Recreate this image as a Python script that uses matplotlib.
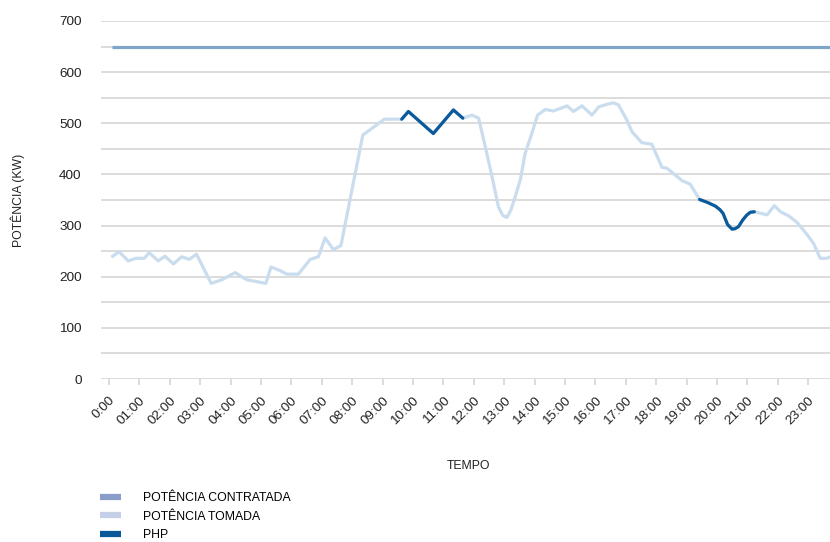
import matplotlib
matplotlib.use("Agg")
import matplotlib.pyplot as plt
from matplotlib.lines import Line2D
import numpy as np

plt.rcParams['font.family'] = ['Liberation Sans', 'DejaVu Sans']

# demanda medida ao longo do dia (hora decimal, kW)
horas = [0.12, 0.33, 0.63, 0.89, 1.16, 1.32, 1.62, 1.84, 2.12, 2.39, 2.64, 2.88,
         3.36, 3.71, 4.15, 4.53, 5.16, 5.33, 5.63, 5.85, 6.23, 6.62, 6.89, 7.11,
         7.38, 7.63, 8.35, 9.06, 9.63, 9.85, 10.67, 11.33, 11.64, 11.94, 12.16,
         12.38, 12.60, 12.81, 12.95, 13.09, 13.22, 13.36, 13.53, 13.69, 13.86,
         14.10, 14.35, 14.62, 15.07, 15.28, 15.56, 15.89, 16.11, 16.38, 16.60,
         16.76, 17.04, 17.20, 17.53, 17.86, 18.19, 18.36, 18.85, 19.12, 19.43,
         19.70, 19.95, 20.10, 20.20, 20.35, 20.50, 20.60, 20.71, 20.85, 20.99,
         21.10, 21.23, 21.65, 21.89, 22.09, 22.36, 22.64, 22.97, 23.18, 23.40,
         23.62, 23.73]
potencia_tomada = [240, 249, 231, 236, 236, 247, 231, 240, 225, 239, 234, 244,
                   187, 194, 208, 194, 187, 219, 212, 205, 205, 234, 239, 276,
                   253, 261, 477, 508, 508, 523, 480, 526, 510, 516, 510,
                   454, 396, 337, 320, 316, 330, 356, 389, 441, 471,
                   516, 527, 524, 534, 523, 534, 516, 532, 537, 540,
                   536, 506, 484, 462, 459, 414, 412, 388, 381, 351,
                   345, 338, 331, 324, 302, 293, 294, 298, 311, 321,
                   326, 327, 321, 339, 327, 319, 306, 282, 265, 236,
                   236, 239]
potencia_contratada = 650
php_inicio = [9.63, 19.43]
php_fim = [11.64, 21.23]

rotulos_x = ['0:00'] + ['%02d:00' % h for h in range(1, 24)]
ticks_y = [0, 100, 200, 300, 400, 500, 600, 700]

horas = np.array(horas)
potencia_tomada = np.array(potencia_tomada)

fig = plt.figure(figsize=(8.3, 5.42), dpi=100)
ax = fig.add_axes([0.1217, 0.3007, 0.8783, 0.6606])

ax.set_xlim(-0.263, 23.72)
ax.set_ylim(0, 700)

for y in np.arange(0, 701, 50):
    ax.axhline(y, color='#d2d2d2', lw=1.1, zorder=0)

ax.plot([0.1, 23.72], [potencia_contratada] * 2, color='#7fa5c8', lw=2.3,
        solid_capstyle='butt', zorder=2)
ax.plot(horas, potencia_tomada, color='#c9ddee', lw=2.3, zorder=3,
        solid_joinstyle='round')
for a, b in zip(php_inicio, php_fim):
    m = (horas >= a) & (horas <= b)
    ax.plot(horas[m], potencia_tomada[m], color='#0b5a9b', lw=2.3, zorder=4,
            solid_joinstyle='round', solid_capstyle='round')

for s in ax.spines.values():
    s.set_visible(False)

ax.set_xticks(range(24))
ax.set_xticklabels(rotulos_x, rotation=45, ha='right', rotation_mode='anchor',
                   fontsize=9.7, color='#222222')
ax.tick_params(axis='x', length=4, width=1.1, color='#d2d2d2', pad=7)
ax.set_yticks(ticks_y)
ax.set_yticklabels([str(v) for v in ticks_y], fontsize=9.7, color='#222222')
ax.tick_params(axis='y', length=0, pad=14)

fig.text(0.5645, 0.14, 'TEMPO', fontsize=8.8, ha='center', va='center',
         color='#222222')
fig.text(0.021, 0.631, 'POTÊNCIA (KW)', fontsize=8.8, rotation=90,
         ha='center', va='center', color='#222222')

handles = [Line2D([], [], color='#8a9dc8', lw=4.5, solid_capstyle='butt'),
           Line2D([], [], color='#c6cfe8', lw=4.5, solid_capstyle='butt'),
           Line2D([], [], color='#08589a', lw=4.5, solid_capstyle='butt')]
fig.legend(handles, ['POTÊNCIA CONTRATADA', 'POTÊNCIA TOMADA', 'PHP'],
           loc='upper left', bbox_to_anchor=(0.12, 0.0925), frameon=False,
           fontsize=8.8, handlelength=1.75, handletextpad=1.8,
           labelspacing=0.55, borderpad=0, borderaxespad=0)

fig.savefig('out.png', dpi=100)
